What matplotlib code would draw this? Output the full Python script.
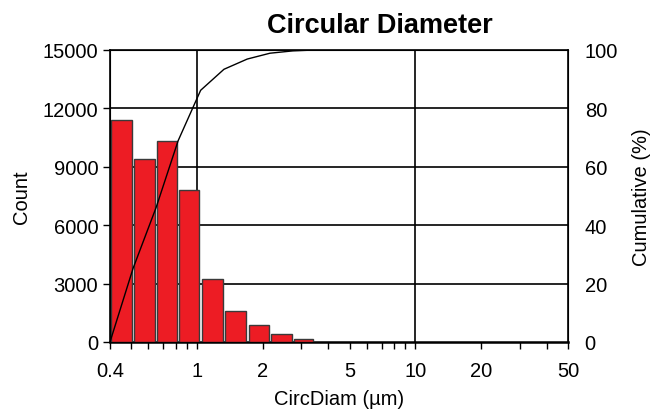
import matplotlib.pyplot as plt
from matplotlib.ticker import FixedLocator, NullFormatter
import numpy as np

plt.rcParams['font.family'] = ['Liberation Sans', 'DejaVu Sans']

# bin edges (um) and counts
bin_edges = [0.40, 0.51, 0.65, 0.82, 1.04, 1.33, 1.70, 2.16, 2.75, 3.45]
counts = [11400, 9400, 10300, 7800, 3250, 1580, 890, 390, 150]
# cumulative curve (%) at the bin edges, then flat to the end
cum_x = [0.40, 0.51, 0.65, 0.82, 1.04, 1.33, 1.70, 2.16, 2.75, 3.45, 50]
cum_pct = [0, 25.2, 46.0, 68.9, 86.2, 93.4, 96.9, 98.9, 99.7, 100, 100]

x_labels = ['0.4', '1', '2', '5', '10', '20', '50']
x_label_pos = [0.4, 1, 2, 5, 10, 20, 50]

fig = plt.figure(figsize=(6.55, 4.10), dpi=100)
ax = fig.add_axes([110 / 655, 1 - 343 / 410, 458 / 655, 292 / 410])

# bars with a small gap on the log scale
gap = 10 ** 0.006
lefts = np.array(bin_edges[:-1]) * gap
rights = np.array(bin_edges[1:]) / gap
ax.bar(lefts, counts, width=rights - lefts, align='edge', color='#ED1C24',
       edgecolor='#3a3a3a', linewidth=1.0, zorder=3)

ax.set_xscale('log')
ax.set_xlim(0.4, 50)
ax.set_ylim(0, 15000)
ax.set_yticks([0, 3000, 6000, 9000, 12000, 15000])
ax.xaxis.set_major_locator(FixedLocator(x_label_pos))
ax.set_xticklabels(x_labels)
minor = [v * m for m in (0.1, 1, 10) for v in range(2, 10)]
ax.xaxis.set_minor_locator(FixedLocator([v for v in minor if 0.4 < v < 50]))
ax.xaxis.set_minor_formatter(NullFormatter())

# grid lines: horizontal at every count tick, vertical at 1 and 10
for yv in [3000, 6000, 9000, 12000]:
    ax.axhline(yv, color='black', linewidth=1.2, zorder=1)
for xv in [1, 10]:
    ax.axvline(xv, color='black', linewidth=1.2, zorder=1)

ax.tick_params(axis='both', labelsize=14.5, direction='out', length=5, width=1)
ax.tick_params(axis='x', which='minor', direction='out', length=5, width=1)
ax.tick_params(axis='x', pad=9)
ax.set_ylabel('Count', fontsize=14.5, labelpad=8)
ax.set_xlabel('CircDiam (\u00b5m)', fontsize=14.5, labelpad=6)
for s in ax.spines.values():
    s.set_linewidth(1.2)
ax.spines['bottom'].set_linewidth(1.8)

ax2 = ax.twinx()
ax2.plot(cum_x, cum_pct, color='black', linewidth=1.0, zorder=4)
ax2.set_ylim(0, 100)
ax2.set_yticks([0, 20, 40, 60, 80, 100])
ax2.tick_params(axis='y', labelsize=14.5, length=0, pad=12)
ax2.set_ylabel('Cumulative (%)', fontsize=14.5, labelpad=10)
ax2.set_xlim(0.4, 50)

fig.text(380 / 655, 1 - 26 / 410, 'Circular Diameter', ha='center', va='center',
         fontsize=19.5, fontweight='bold')

fig.savefig('out.png', dpi=100)
